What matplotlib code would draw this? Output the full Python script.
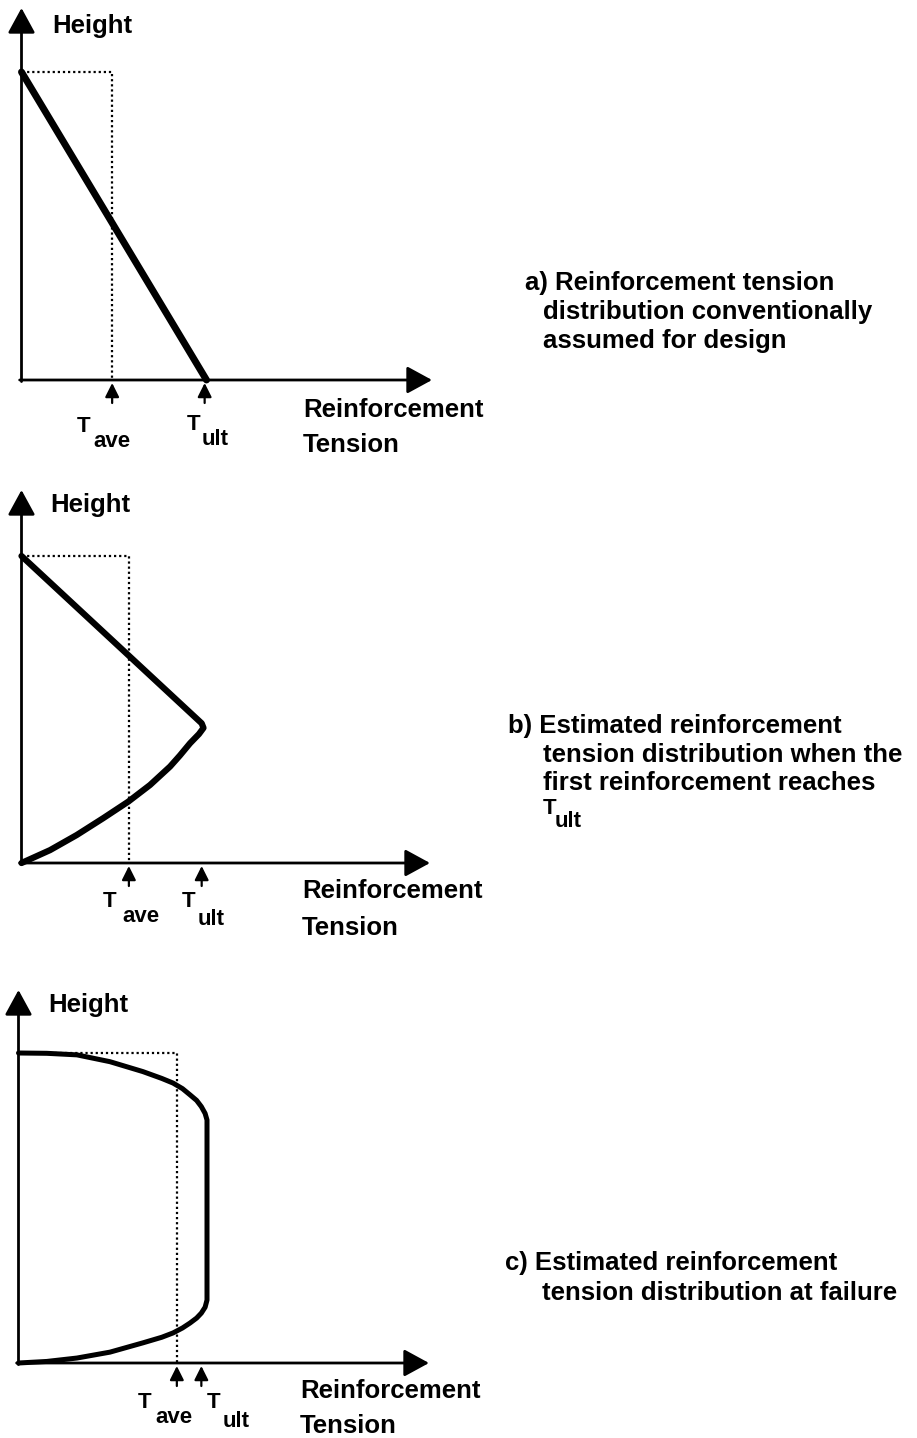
import matplotlib
matplotlib.use("Agg")
import matplotlib.pyplot as plt

# ---------------- data (normalised: T / T_ult, height / H) ----------------
a_T = [0.0, 1.0]
a_H = [1.0, 0.0]

b_T = [0.0, 0.99, 1.0, 0.975, 0.926, 0.87, 0.816, 0.706, 0.587, 0.449,
       0.303, 0.157, 0.0]
b_H = [1.0, 0.455, 0.44, 0.42, 0.39, 0.35, 0.314, 0.254, 0.20, 0.146,
       0.091, 0.042, 0.0]

c_T = [0.0, 0.15, 0.31, 0.485, 0.66, 0.76, 0.82, 0.87, 0.91, 0.945, 0.97,
       0.99, 1.0,
       1.0, 0.99, 0.97, 0.945, 0.91, 0.87, 0.82, 0.76, 0.66, 0.485, 0.31,
       0.15, 0.0]
c_H = [1.0, 0.999, 0.994, 0.972, 0.94, 0.918, 0.903, 0.885, 0.865, 0.847,
       0.827, 0.805, 0.784,
       0.203, 0.18, 0.161, 0.145, 0.129, 0.113, 0.097, 0.083, 0.065, 0.035,
       0.016, 0.005, 0.0]

T_ave = [0.49, 0.59, 0.84]          # dotted rectangle / T_ave marker
T_ult_tick = [0.99, 0.99, 0.97]     # T_ult marker position
line_widths = [5.0, 4.5, 3.6]

y_label = "Height"
x_label = ["Reinforcement", "Tension"]
tick_main = "T"
tick_subs = ["ave", "ult"]
captions = [
    ["a) Reinforcement tension", "distribution conventionally", "assumed for design"],
    ["b) Estimated reinforcement", "tension distribution when the", "first reinforcement reaches"],
    ["c) Estimated reinforcement", "tension distribution at failure"],
]

# ---------------- layout (pixels) ----------------
W, H = 917, 1438
FONT = "Liberation Sans"
fig = plt.figure(figsize=(W / 100, H / 100), dpi=100)
fig.patch.set_facecolor("white")

panels = [
    dict(ox=21.5, oy=380, sx=185, sy=308, xtip=432, ytip=8,
         height=(52, 33), reinf=(303, 417), tens=(303, 452),
         tave=((77, 432), (93, 447)), tult=((187, 430), (202, 445)),
         cap_first=(525, 290), cap_rest=543, cap_base=[290, 319, 348]),
    dict(ox=21.5, oy=863, sx=182, sy=307, xtip=430, ytip=490,
         height=(50, 512), reinf=(302, 898), tens=(302, 935),
         tave=((103, 907), (122, 922)), tult=((182, 907), (198, 925)),
         cap_first=(508, 733), cap_rest=543, cap_base=[733, 762, 790]),
    dict(ox=18.5, oy=1363, sx=188.5, sy=310, xtip=429, ytip=990,
         height=(48, 1012), reinf=(300, 1398), tens=(300, 1433),
         tave=((138, 1408), (155, 1423)), tult=((207, 1408), (223, 1427)),
         cap_first=(505, 1270), cap_rest=542, cap_base=[1270, 1300]),
]
curves = [(a_T, a_H), (b_T, b_H), (c_T, c_H)]


def ftxt(x, y, s, size=18.5):
    fig.text(x / W, 1 - y / H, s, fontsize=size, fontweight="bold",
             family=FONT, ha="left", va="baseline", color="black")


for i, p in enumerate(panels):
    ax = fig.add_axes([p["ox"] / W, (H - p["oy"]) / H, p["sx"] / W, p["sy"] / H])
    ax.set_xlim(0, 1)
    ax.set_ylim(0, 1)
    ax.axis("off")

    xt = (p["xtip"] - p["ox"]) / p["sx"]
    yt = (p["oy"] - p["ytip"]) / p["sy"]
    arrow = dict(arrowstyle="-|>,head_length=0.55,head_width=0.3", color="black",
                 lw=2.0, mutation_scale=28, shrinkA=0, shrinkB=0)
    ax.annotate("", xy=(xt, 0), xytext=(-0.01, 0), arrowprops=arrow,
                annotation_clip=False)
    ax.annotate("", xy=(0, yt), xytext=(0, -0.005), arrowprops=arrow,
                annotation_clip=False)

    # dotted rectangle of average tension
    ax.plot([0, T_ave[i], T_ave[i]], [1.0, 1.0, 0.0], color="black",
            lw=1.6, ls=(0, (1.0, 1.3)), clip_on=False)

    # tension distribution curve
    T, Hh = curves[i]
    ax.plot(T, Hh, color="black", lw=line_widths[i], clip_on=False,
            solid_joinstyle="round", solid_capstyle="round")

    # small arrows marking T_ave and T_ult
    small = dict(arrowstyle="-|>,head_length=0.6,head_width=0.3", color="black",
                 lw=1.6, mutation_scale=14, shrinkA=0, shrinkB=0)
    for tx in (T_ave[i], T_ult_tick[i]):
        ax.annotate("", xy=(tx, -3 / p["sy"]), xytext=(tx, -23 / p["sy"]),
                    arrowprops=small, annotation_clip=False)

    # texts
    ftxt(*p["height"], y_label)
    ftxt(*p["reinf"], x_label[0])
    ftxt(*p["tens"], x_label[1])
    ftxt(*p["tave"][0], tick_main, 16)
    ftxt(*p["tave"][1], tick_subs[0], 16)
    ftxt(*p["tult"][0], tick_main, 16)
    ftxt(*p["tult"][1], tick_subs[1], 16)

    cap = captions[i]
    ftxt(p["cap_first"][0], p["cap_base"][0], cap[0])
    for line, yb in zip(cap[1:], p["cap_base"][1:]):
        ftxt(p["cap_rest"], yb, line)

# T_ult at the end of caption b
ftxt(543, 814, tick_main, 16)
ftxt(555, 827, tick_subs[1], 16)

fig.savefig("out.png", dpi=100, facecolor="white")
